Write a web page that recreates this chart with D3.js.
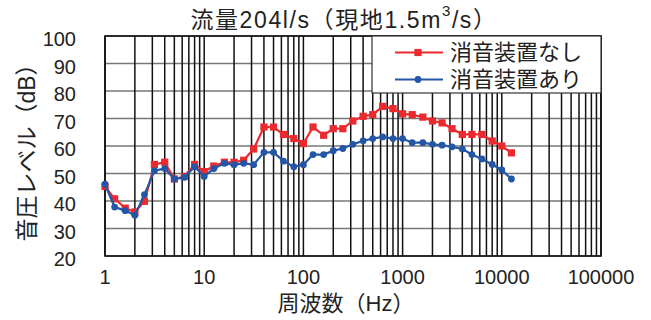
<!DOCTYPE html>
<html>
<head>
<meta charset="utf-8">
<script src="https://cdn.jsdelivr.net/npm/d3@7"></script>
<style>
  html, body { margin: 0; padding: 0; background: #fff; }
  svg { display: block; }
  text { font-family: "Liberation Sans", "Noto Sans CJK JP", sans-serif; fill: #222; }
</style>
</head>
<body>
<svg id="chart" width="651" height="320"></svg>
<script>
// 1/3 octave band centre frequencies (Hz)
const freqs = [1, 1.25, 1.6, 2, 2.5, 3.15, 4, 5, 6.3, 8, 10, 12.5, 16, 20, 25, 31.5, 40, 50, 63, 80,
  100, 125, 160, 200, 250, 315, 400, 500, 630, 800, 1000, 1250, 1600, 2000, 2500, 3150, 4000, 5000,
  6300, 8000, 10000, 12500];

// Sound pressure level without silencer (dB)
const levelsWithout = [45.3, 40.8, 37.4, 36.0, 39.9, 53.3, 54.1, 48.0, 48.9, 53.3, 50.7, 52.7, 54.1,
  54.1, 54.8, 58.9, 66.9, 66.9, 64.2, 62.7, 60.9, 66.9, 63.9, 66.3, 66.3, 69.1, 70.8, 71.4, 74.4,
  73.6, 71.7, 71.4, 70.5, 69.1, 68.4, 66.3, 64.2, 64.2, 64.2, 61.8, 60.0, 57.5];

// Sound pressure level with silencer (dB)
const levelsWith = [46.1, 37.8, 36.5, 34.8, 42.3, 51.0, 51.8, 48.0, 48.6, 52.5, 48.9, 51.8, 53.7,
  53.2, 53.7, 53.2, 57.7, 57.7, 54.5, 52.5, 53.2, 56.9, 56.9, 58.3, 59.1, 60.6, 61.9, 62.7, 63.3,
  62.7, 62.7, 61.2, 61.2, 60.6, 60.3, 59.7, 58.9, 56.9, 55.3, 53.3, 51.3, 48.0];

const seriesNames = ["消音装置なし", "消音装置あり"];
const xTickLabels = ["1", "10", "100", "1000", "10000", "100000"];
const yTickLabels = ["20", "30", "40", "50", "60", "70", "80", "90", "100"];

const titleMain = "流量204l/s（現地1.5m";
const titleSup = "3";
const titleEnd = "/s）";
const xTitle = "周波数（Hz）";
const yTitle = "音圧レベル（dB）";

const svg = d3.select("#chart");
const plotL = 105, plotR = 601, plotT = 36, plotB = 256;

const x = d3.scaleLog().domain([1, 100000]).range([plotL, plotR]);
const y = d3.scaleLinear().domain([20, 100]).range([plotB, plotT]);

// horizontal grid (grey)
const gGrid = svg.append("g");
gGrid.selectAll("line.h").data(yTickLabels.map(Number)).enter().append("line")
  .attr("x1", plotL).attr("x2", plotR)
  .attr("y1", d => y(d)).attr("y2", d => y(d))
  .attr("stroke", "#777").attr("stroke-width", 1.4);

// vertical log grid (black), 1..9 per decade
const vTicks = [];
for (let d = 1; d < 100000; d *= 10) for (let k = 1; k <= 9; k++) vTicks.push(d * k);
vTicks.push(100000);
gGrid.selectAll("line.v").data(vTicks).enter().append("line")
  .attr("x1", d => x(d)).attr("x2", d => x(d))
  .attr("y1", plotT).attr("y2", plotB)
  .attr("stroke", "#111").attr("stroke-width", 1.5);

// plot frame
svg.append("rect").attr("x", plotL).attr("y", plotT)
  .attr("width", plotR - plotL).attr("height", plotB - plotT)
  .attr("fill", "none").attr("stroke", "#111").attr("stroke-width", 1.6);

// series
const series = [
  { name: seriesNames[0], values: levelsWithout, color: "#ea2a2e", shape: "square" },
  { name: seriesNames[1], values: levelsWith, color: "#2456a6", shape: "circle" }
];
const line = d3.line().x(d => x(d[0])).y(d => y(d[1]));

series.forEach(s => {
  const pts = freqs.map((f, i) => [f, s.values[i]]);
  svg.append("path").datum(pts).attr("d", line)
    .attr("fill", "none").attr("stroke", s.color).attr("stroke-width", 2.2);
  const g = svg.append("g");
  if (s.shape === "square") {
    g.selectAll("rect").data(pts).enter().append("rect")
      .attr("x", d => x(d[0]) - 3.6).attr("y", d => y(d[1]) - 3.6)
      .attr("width", 7.2).attr("height", 7.2).attr("fill", s.color);
  } else {
    g.selectAll("circle").data(pts).enter().append("circle")
      .attr("cx", d => x(d[0])).attr("cy", d => y(d[1])).attr("r", 3.4).attr("fill", s.color);
  }
});

// legend
const lg = svg.append("g");
lg.append("rect").attr("x", 372).attr("y", plotT).attr("width", plotR - 372).attr("height", 57)
  .attr("fill", "#fff").attr("stroke", "#333").attr("stroke-width", 1.2);
series.forEach((s, i) => {
  const ly = 52.5 + i * 27;
  lg.append("line").attr("x1", 395).attr("x2", 443).attr("y1", ly).attr("y2", ly)
    .attr("stroke", s.color).attr("stroke-width", 2.2);
  if (s.shape === "square") {
    lg.append("rect").attr("x", 418 - 3.6).attr("y", ly - 3.6).attr("width", 7.2).attr("height", 7.2)
      .attr("fill", s.color);
  } else {
    lg.append("circle").attr("cx", 418).attr("cy", ly).attr("r", 3.4).attr("fill", s.color);
  }
  lg.append("text").attr("x", 450).attr("y", ly).attr("dy", "0.36em")
    .attr("font-size", 22).text(s.name);
});

// y tick labels
svg.append("g").selectAll("text").data(yTickLabels).enter().append("text")
  .attr("x", 76).attr("y", d => y(+d) + 3).attr("dy", "0.36em")
  .attr("text-anchor", "end").attr("font-size", 20).text(d => d);

// x tick labels
svg.append("g").selectAll("text").data(xTickLabels).enter().append("text")
  .attr("x", d => x(+d)).attr("y", 277).attr("dy", "0.36em")
  .attr("text-anchor", "middle").attr("font-size", 20).text(d => d);

// titles
const t = svg.append("text").attr("x", 344).attr("y", 20).attr("dy", "0.36em")
  .attr("text-anchor", "middle").attr("font-size", 23).attr("letter-spacing", 1.6);
t.append("tspan").text(titleMain);
t.append("tspan").attr("font-size", 15).attr("dy", "-0.85em").text(titleSup);
t.append("tspan").attr("dy", "0.55em").text(titleEnd);

svg.append("text").attr("x", 346).attr("y", 303).attr("dy", "0.36em")
  .attr("text-anchor", "middle").attr("font-size", 22).text(xTitle);

svg.append("text")
  .attr("transform", "translate(27,147) rotate(-90)").attr("dy", "0.36em")
  .attr("text-anchor", "middle").attr("font-size", 23).text(yTitle);
</script>
</body>
</html>
